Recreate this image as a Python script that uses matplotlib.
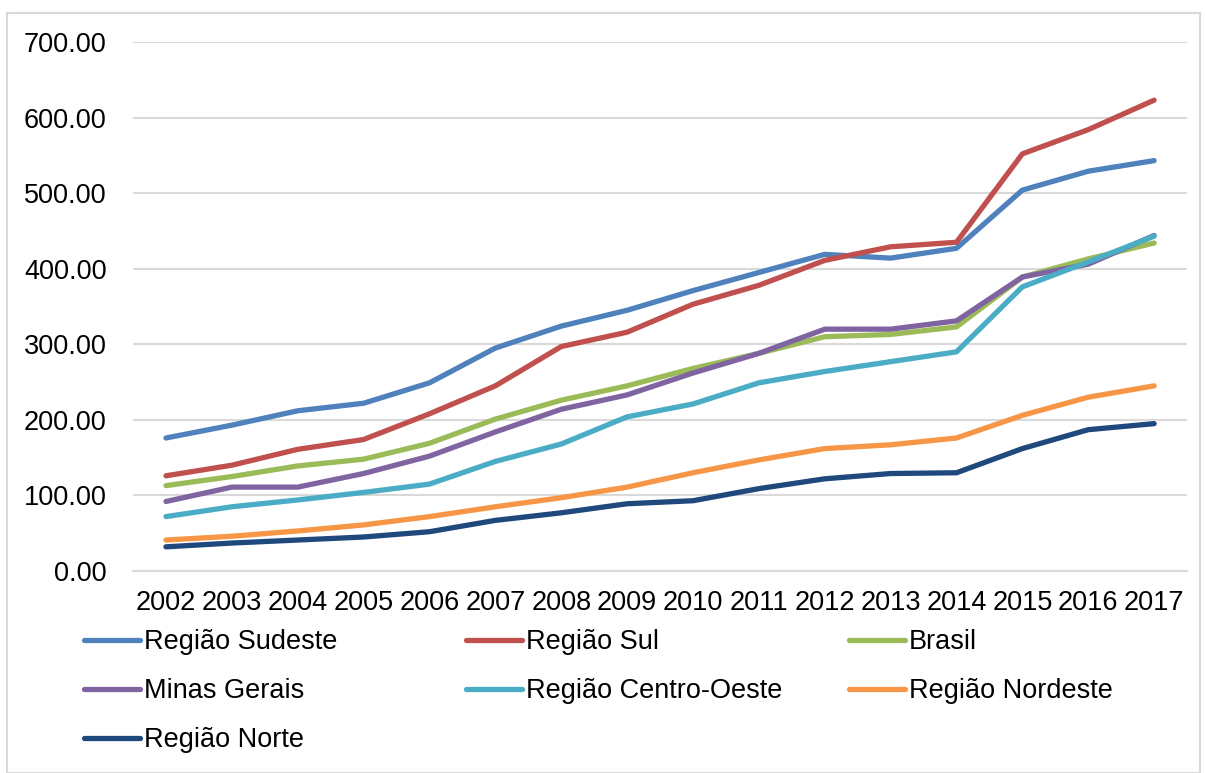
import matplotlib.pyplot as plt
from matplotlib.patches import Rectangle
from matplotlib.ticker import FuncFormatter

plt.rcParams['font.family'] = ['Liberation Sans', 'DejaVu Sans']

years = [str(y) for y in range(2002, 2018)]

sudeste = [176, 193, 212, 222, 249, 295, 324, 345, 371, 395, 419, 414, 427, 504, 529, 543]
sul = [126, 140, 161, 174, 208, 245, 297, 316, 353, 378, 411, 429, 435, 552, 584, 623]
brasil = [113, 125, 139, 148, 169, 201, 226, 245, 268, 288, 310, 313, 323, 389, 413, 434]
minas = [92, 111, 111, 129, 152, 184, 214, 233, 262, 288, 320, 320, 331, 389, 406, 444]
centro_oeste = [72, 85, 94, 104, 115, 145, 168, 204, 221, 249, 264, 277, 290, 376, 409, 443]
nordeste = [41, 46, 53, 61, 72, 85, 97, 111, 130, 147, 162, 167, 176, 206, 230, 245]
norte = [32, 37, 41, 45, 52, 67, 77, 89, 93, 109, 122, 129, 130, 162, 187, 195]

series = [
    ('Região Sudeste', sudeste, '#4F81BD'),
    ('Região Sul', sul, '#C0504D'),
    ('Brasil', brasil, '#9BBB59'),
    ('Minas Gerais', minas, '#8064A2'),
    ('Região Centro-Oeste', centro_oeste, '#4BACC6'),
    ('Região Nordeste', nordeste, '#F79646'),
    ('Região Norte', norte, '#1F497D'),
]

fs = 19.5

fig = plt.figure(figsize=(12.06, 7.73), dpi=100)
ax = fig.add_axes([0.1103, 0.2613, 0.874, 0.6844])

# light frame around the whole chart
fig.patches.append(Rectangle((7 / 1206, 0), 1193 / 1206, 760 / 773,
                             transform=fig.transFigure, fill=False,
                             edgecolor='#D9D9D9', linewidth=1.5))

x = list(range(len(years)))
for name, vals, col in series:
    ax.plot(x, vals, color=col, linewidth=3.8, label=name,
            solid_capstyle='round', solid_joinstyle='round')

ax.set_xlim(-0.5, len(years) - 0.5)
ax.set_ylim(0, 700)
ax.set_yticks(range(0, 701, 100))
ax.yaxis.set_major_formatter(FuncFormatter(lambda v, p: f'{v:.2f}'))
ax.set_xticks(x)
ax.set_xticklabels(years)

ax.grid(axis='y', color='#D9D9D9', linewidth=1.5)
ax.set_axisbelow(True)
for s in ['top', 'right', 'left']:
    ax.spines[s].set_visible(False)
ax.spines['bottom'].set_color('#D9D9D9')
ax.spines['bottom'].set_linewidth(1.5)
ax.tick_params(axis='both', length=0, labelsize=fs, colors='black')
ax.tick_params(axis='y', pad=19)
ax.tick_params(axis='x', pad=14)

# legend laid out row by row in three fixed-width columns
handles, labels = ax.get_legend_handles_labels()
col_x = [0.0697, 0.3865, 0.7040]
for c in range(3):
    idx = list(range(c, len(handles), 3))
    leg = fig.legend([handles[i] for i in idx], [labels[i] for i in idx],
                     loc='upper left', bbox_to_anchor=(col_x[c], 0.1863),
                     frameon=False, fontsize=fs, handlelength=2.07,
                     handletextpad=0.15, labelspacing=0.85,
                     borderaxespad=0, borderpad=0)

fig.savefig('out.png', dpi=100, facecolor='white')
